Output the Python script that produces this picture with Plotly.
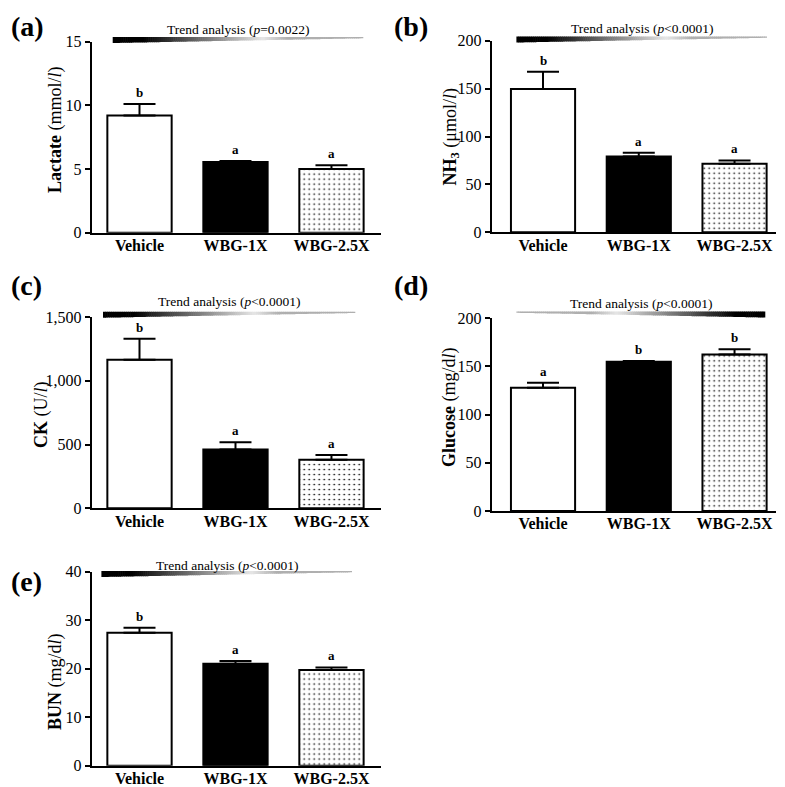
import plotly.graph_objects as go

W, H = 785, 787
OFF = 8  # page body margin in the browser

# ---------------- data ----------------
groups = ["Vehicle", "WBG-1X", "WBG-2.5X"]

lactate = [9.2, 5.55, 5.0]
lactate_err = [0.9, 0.08, 0.3]
lactate_letters = ["b", "a", "a"]

nh3 = [149.5, 79.0, 71.5]
nh3_err = [18.0, 4.0, 3.5]
nh3_letters = ["b", "a", "a"]

ck = [1165, 462, 380]
ck_err = [165, 55, 38]
ck_letters = ["b", "a", "a"]

glucose = [128.0, 155.0, 162.5]
glucose_err = [5.0, 0.8, 5.5]
glucose_letters = ["a", "b", "b"]

bun = [27.4, 21.0, 19.7]
bun_err = [1.0, 0.55, 0.55]
bun_letters = ["b", "a", "a"]

panel_labels = ["(a)", "(b)", "(c)", "(d)", "(e)"]
y_titles = [
    "<b>Lactate</b> (mmol/<i>l</i>)",
    "<b>NH<sub>3</sub></b> (μmol/<i>l</i>)",
    "<b>CK</b> (U/<i>l</i>)",
    "<b>Glucose</b> (mg/d<i>l</i>)",
    "<b>BUN</b> (mg/d<i>l</i>)",
]
trend_p = ["=0.0022", "&lt;0.0001", "&lt;0.0001", "&lt;0.0001", "&lt;0.0001"]
y_max = [15, 200, 1500, 200, 40]
y_dtick = [5, 50, 500, 50, 10]

values = [lactate, nh3, ck, glucose, bun]
errors = [lactate_err, nh3_err, ck_err, glucose_err, bun_err]
letters = [lactate_letters, nh3_letters, ck_letters, glucose_letters, bun_letters]

# ---------------- geometry (window pixels) ----------------
geom = [
    dict(l=91.7, r=381, top=41.6, bot=232.7, xr=[-0.498, 2.516], wx=(113, 363), wtop=37.0, thick_left=True,
         txt=(238, 29), ttl=(55, 130), lab=(8.5, 8.5)),
    dict(l=491.7, r=776, top=40.7, bot=232.3, xr=[-0.536, 2.433], wx=(516.7, 766.7), wtop=36.5, thick_left=True,
         txt=(641.7, 28.3), ttl=(451, 137.5), lab=(392, 8.5)),
    dict(l=91.7, r=381, top=317.0, bot=508.3, xr=[-0.498, 2.516], wx=(103.3, 355), wtop=311.7, thick_left=True,
         txt=(229, 301.7), ttl=(41, 415), lab=(8.5, 268)),
    dict(l=491.7, r=776, top=318.3, bot=511.0, xr=[-0.536, 2.433], wx=(516.7, 765), wtop=311.5, thick_left=False,
         txt=(641, 303.3), ttl=(449, 407), lab=(392, 268)),
    dict(l=91.7, r=381, top=571.5, bot=765.7, xr=[-0.498, 2.516], wx=(101.7, 351.7), wtop=571.0, thick_left=True,
         txt=(227, 565), ttl=(55, 682), lab=(8.5, 564)),
]

SERIF = "Liberation Serif"


def px(x):
    return (x - OFF) / W


def py(y):
    return 1 - (y - OFF) / H


fig = go.Figure()
shapes = []
annotations = []


def gray(t):
    if t < 0.12:
        g = 0
    elif t < 0.6:
        g = 230 * (t - 0.12) / 0.48
    elif t < 0.7:
        g = 230 - 55 * (t - 0.6) / 0.1
    else:
        g = 175
    g = int(round(g))
    return f"rgb({g},{g},{g})"


fills = ["white", "black", "white"]
patterns = ["", "", "."]

for i in range(5):
    g = geom[i]
    xa = "x" if i == 0 else f"x{i + 1}"
    ya = "y" if i == 0 else f"y{i + 1}"
    for j in range(3):
        fig.add_trace(go.Bar(
            x=[groups[j]], y=[values[i][j]],
            xaxis=xa, yaxis=ya,
            width=0.67,
            marker=dict(
                color=fills[j],
                line=dict(color="black", width=2),
                pattern=dict(shape=patterns[j], fgcolor="black", bgcolor="white",
                             fillmode="replace", size=5, solidity=0.09),
            ),
            error_y=dict(type="data", symmetric=False, array=[errors[i][j]], arrayminus=[0],
                         color="black", thickness=2, width=16),
            showlegend=False,
        ))
    axkey = "xaxis" if i == 0 else f"xaxis{i + 1}"
    aykey = "yaxis" if i == 0 else f"yaxis{i + 1}"
    fig.layout[axkey] = dict(
        domain=[px(g["l"]), px(g["r"])], anchor=ya, range=g["xr"], type="category",
        categoryorder="array", categoryarray=groups,
        showline=True, linecolor="black", linewidth=2, ticks="", showgrid=False, zeroline=False,
        tickfont=dict(family=SERIF, size=16, color="black", weight="bold"),
        ticklabelstandoff=-3,
        fixedrange=True, automargin=False,
    )
    fig.layout[aykey] = dict(
        domain=[py(g["bot"]), py(g["top"])], anchor=xa, range=[0, y_max[i]], dtick=y_dtick[i],
        tickformat=",d", showline=True, linecolor="black", linewidth=2,
        ticks="outside", ticklen=5, tickwidth=2, tickcolor="black",
        showgrid=False, zeroline=False,
        tickfont=dict(family=SERIF, size=16, color="black"),
        fixedrange=True, automargin=False,
    )
    # significance letters
    for j in range(3):
        annotations.append(dict(
            x=groups[j], y=values[i][j] + errors[i][j], xref=xa, yref=ya,
            text=letters[i][j], showarrow=False, yanchor="bottom", yshift=2,
            font=dict(family=SERIF, size=13, color="black", weight="bold"),
        ))
    # y title
    annotations.append(dict(
        x=px(g["ttl"][0]), y=py(g["ttl"][1]), xref="paper", yref="paper",
        text=y_titles[i], textangle=-90, showarrow=False,
        xanchor="center", yanchor="middle",
        font=dict(family=SERIF, size=18, color="black"),
    ))
    # panel label
    annotations.append(dict(
        x=px(g["lab"][0]), y=py(g["lab"][1]), xref="paper", yref="paper",
        text=f"<b>{panel_labels[i]}</b>", showarrow=False,
        xanchor="left", yanchor="top",
        font=dict(family=SERIF, size=28, color="black"),
    ))
    # trend text
    annotations.append(dict(
        x=px(g["txt"][0]), y=py(g["txt"][1]), xref="paper", yref="paper",
        text=f"Trend analysis (<i>p</i>{trend_p[i]})", showarrow=False,
        xanchor="center", yanchor="middle",
        font=dict(family=SERIF, size=13.5, color="black"),
    ))
    # gradient wedge
    N = 120
    x0, x1 = g["wx"]
    top = g["wtop"]
    for k in range(N):
        t0, t1 = k / N, (k + 1) / N
        h0 = 6 + (1.3 - 6) * t0
        h1 = 6 + (1.3 - 6) * t1
        if g["thick_left"]:
            a = x0 + (x1 - x0) * t0 - 0.3
            b = x0 + (x1 - x0) * t1 + 0.3
        else:
            a = x1 - (x1 - x0) * t0 + 0.3
            b = x1 - (x1 - x0) * t1 - 0.3
        path = (f"M {px(a):.5f},{py(top):.5f} L {px(b):.5f},{py(top):.5f} "
                f"L {px(b):.5f},{py(top + h1):.5f} L {px(a):.5f},{py(top + h0):.5f} Z")
        shapes.append(dict(type="path", path=path, xref="paper", yref="paper",
                           fillcolor=gray((t0 + t1) / 2), line=dict(width=0), layer="above"))

fig.update_layout(
    template="none",
    width=W, height=H,
    margin=dict(l=0, r=0, t=0, b=0, pad=0, autoexpand=False),
    paper_bgcolor="white", plot_bgcolor="white",
    shapes=shapes, annotations=annotations,
    barmode="overlay",
    font=dict(family=SERIF, color="black"),
)

fig.write_html("out.html")
